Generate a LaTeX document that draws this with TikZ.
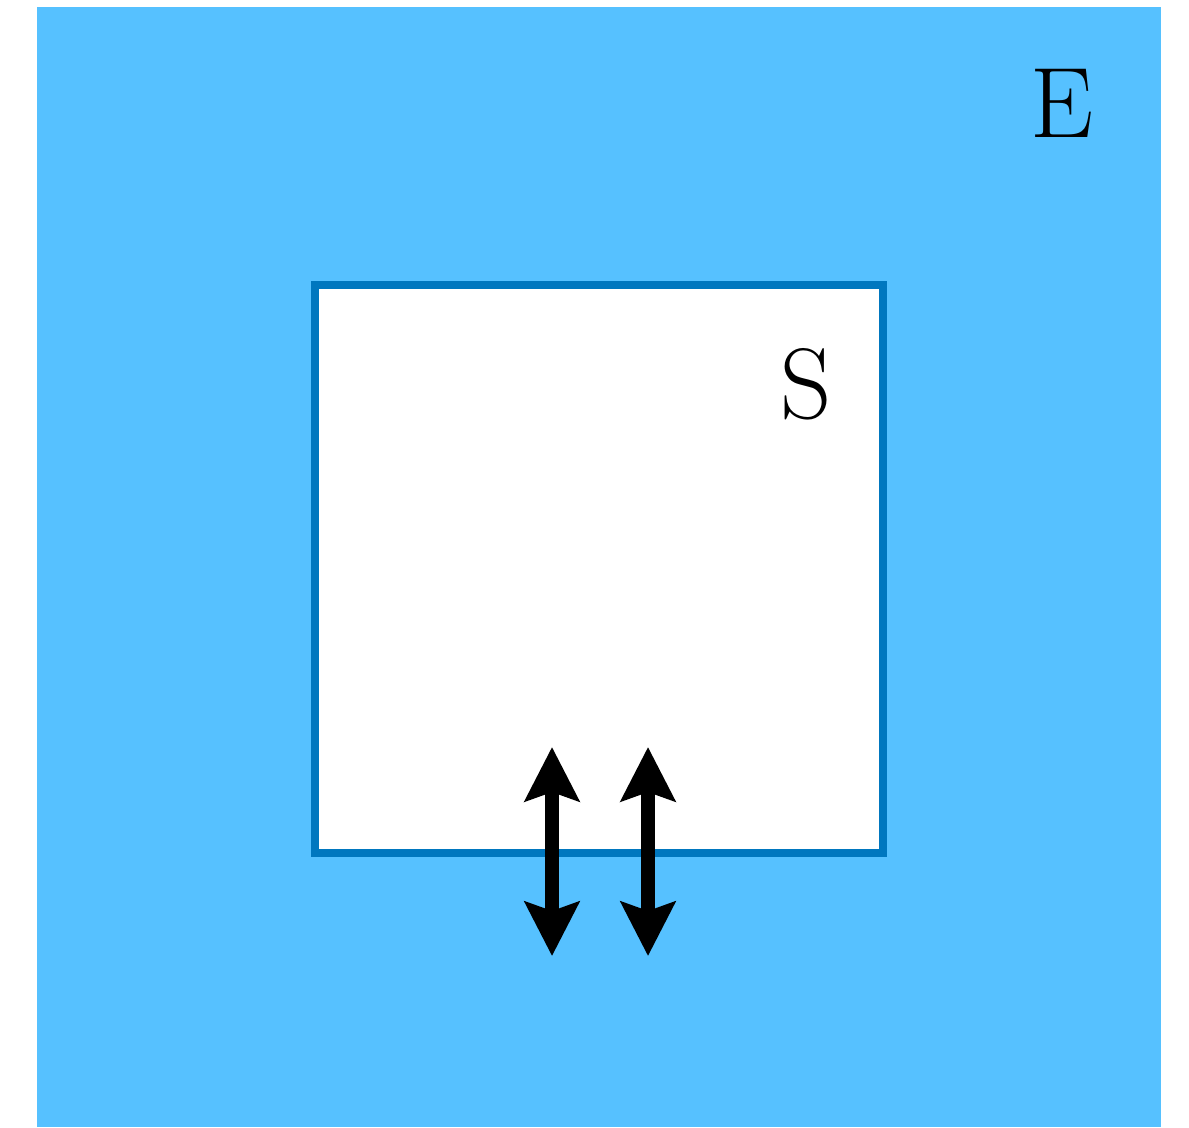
\documentclass[tikz,border=0pt]{standalone}
\usetikzlibrary{arrows.meta}
\definecolor{envblue}{HTML}{56C1FF}
\definecolor{sysblue}{HTML}{0077BF}
\begin{document}
\begin{tikzpicture}[x=0.01cm,y=-0.01cm, line join=miter,
    flow/.style={line width=0.135cm,{Stealth[length=0.54cm,width=0.54cm,inset=0.09cm]}-{Stealth[length=0.54cm,width=0.54cm,inset=0.09cm]}},
    lbl/.style={font=\fontsize{28.5}{32}\selectfont, inner sep=0pt}]
        \useasboundingbox (0,0) rectangle (1189,1127);
        % environment
        \fill[envblue] (37,7) rectangle (1161,1127);
        \node[lbl] (E) at (1062,103) {E};
        % system
        \draw[sysblue, fill=white, line width=0.08cm] (315,285) rectangle (883,853);
        \node[lbl] (S) at (806,384) {S};
        % exchange across the boundary
        \coordinate (a1) at (552,747); \coordinate (b1) at (552,956);
        \coordinate (a2) at (648,747); \coordinate (b2) at (648,956);
        \draw[flow] (a1) -- (b1);
        \draw[flow] (a2) -- (b2);
    \end{tikzpicture}
\end{document}
